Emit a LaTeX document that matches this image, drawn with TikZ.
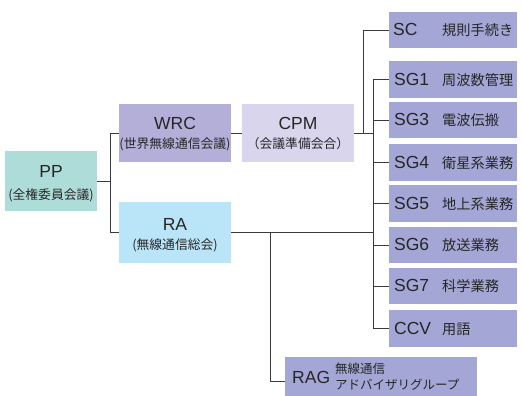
\documentclass[tikz,border=0pt]{standalone}
\usepackage{fontspec}
\setmainfont{Liberation Sans}
\newfontfamily\jp{Noto Sans CJK JP}
\definecolor{ppc}{HTML}{AEDDD9}
\definecolor{wrcc}{HTML}{B4AFD8}
\definecolor{cpmc}{HTML}{D9D5EC}
\definecolor{rac}{HTML}{BAE4F8}
\definecolor{sgc}{HTML}{A4A7D6}
\definecolor{linec}{HTML}{3A3A3A}
\definecolor{txt}{HTML}{262626}
\tikzset{
  box/.style={draw=none, inner sep=0pt},
  ln/.style={draw=linec, line width=0.9pt},
  lat/.style={font=\fontsize{17.5}{20}\selectfont, text=txt, inner sep=0pt},
  jpt/.style={font=\jp\fontsize{12.8}{15}\selectfont, text=txt, inner sep=0pt},
  jps/.style={font=\jp\fontsize{14.2}{16}\selectfont, text=txt, inner sep=0pt},
  jpr/.style={font=\jp\fontsize{12.5}{14}\selectfont, text=txt, inner sep=0pt},
  sgbox/.style={box, fill=sgc, minimum width=128pt},
}
\begin{document}
\begin{tikzpicture}[x=1pt,y=-1pt]
\useasboundingbox (0,0) rectangle (522,396);
% boxes
\node[box, fill=ppc, minimum width=92pt, minimum height=60pt] (pp) at (51,181) {};
\node[box, fill=wrcc, minimum width=112pt, minimum height=58pt] (wrc) at (175,133) {};
\node[box, fill=cpmc, minimum width=112pt, minimum height=58pt] (cpm) at (298,133) {};
\node[box, fill=rac, minimum width=112pt, minimum height=61pt] (ra) at (175,232.5) {};
\node[sgbox, minimum height=36pt] (sc) at (453,30) {};
\node[sgbox, minimum height=37pt] (sg1) at (453,79.5) {};
\node[sgbox, minimum height=36pt] (sg3) at (453,120) {};
\node[sgbox, minimum height=37pt] (sg4) at (453,162.5) {};
\node[sgbox, minimum height=37pt] (sg5) at (453,203.5) {};
\node[sgbox, minimum height=36pt] (sg6) at (453,245) {};
\node[sgbox, minimum height=36pt] (sg7) at (453,286) {};
\node[sgbox, minimum height=37pt] (ccv) at (453,328.5) {};
\node[sgbox, minimum width=192pt, minimum height=40pt] (rag) at (381,377) {};
% connectors
\coordinate (xa) at (110,0);
\coordinate (xb) at (363,0);
\coordinate (xc) at (373,0);
\coordinate (xd) at (270,0);
\coordinate (ragy) at (0,381);
\draw[ln] (pp.east) -- (pp.east -| xa);
\draw[ln] (wrc.west -| xa) -- (ra.west -| xa);
\draw[ln] (wrc.west -| xa) -- (wrc.west);
\draw[ln] (wrc.east) -- (cpm.west);
\draw[ln] (cpm.east) -- (cpm.east -| xc);
\draw[ln] (sc.west) -- (sc.west -| xb) -- (cpm.east -| xb);
\draw[ln] (sg1.west -| xc) -- (ccv.west -| xc);
\foreach \n in {sg1,sg3,sg4,sg5,sg6,sg7,ccv} \draw[ln] (\n.west -| xc) -- (\n.west);
\draw[ln] (ra.west -| xa) -- (ra.west);
\draw[ln] (ra.east) -- (ra.east -| xc);
\draw[ln] (ra.east -| xd) -- (xd |- ragy) -- (rag.west |- ragy);
% texts
\node[lat, anchor=base] (ppt) at (51,177) {PP};
\node[jpt, anchor=base] (ppj) at (51,199) {(全権委員会議)};
\node[lat, anchor=base] (wrct) at (175,129) {WRC};
\node[jpt, anchor=base] (wrcj) at (175,148) {(世界無線通信会議)};
\node[lat, anchor=base] (cpmt) at (298,129) {CPM};
\node[jpt, anchor=base] (cpmj) at (298,148) {（会議準備会合）};
\node[lat, anchor=base] (rat) at (175,230) {RA};
\node[jpt, anchor=base] (raj) at (175,249) {(無線通信総会)};
\node[lat, anchor=base west] (sct) at (393,36) {SC};
\node[jps, anchor=base west] (scj) at (442,36) {規則手続き};
\node[lat, anchor=base west] (sg1t) at (394,85) {SG1};
\node[jps, anchor=base west] (sg1j) at (442,85) {周波数管理};
\node[lat, anchor=base west] (sg3t) at (394,125.5) {SG3};
\node[jps, anchor=base west] (sg3j) at (442,125.5) {電波伝搬};
\node[lat, anchor=base west] (sg4t) at (394,168) {SG4};
\node[jps, anchor=base west] (sg4j) at (442,168) {衛星系業務};
\node[lat, anchor=base west] (sg5t) at (394,209) {SG5};
\node[jps, anchor=base west] (sg5j) at (442,209) {地上系業務};
\node[lat, anchor=base west] (sg6t) at (394,250.5) {SG6};
\node[jps, anchor=base west] (sg6j) at (442,250.5) {放送業務};
\node[lat, anchor=base west] (sg7t) at (394,291.5) {SG7};
\node[jps, anchor=base west] (sg7j) at (442,291.5) {科学業務};
\node[lat, anchor=base west] (ccvt) at (394,334) {CCV};
\node[jps, anchor=base west] (ccvj) at (442,334) {用語};
\node[lat, anchor=base west] (ragt) at (292,383) {RAG};
\node[jpr, anchor=base west] (ragj1) at (335,373) {無線通信};
\node[jpr, anchor=base west] (ragj2) at (335,389) {アドバイザリグループ};
\end{tikzpicture}
\end{document}
